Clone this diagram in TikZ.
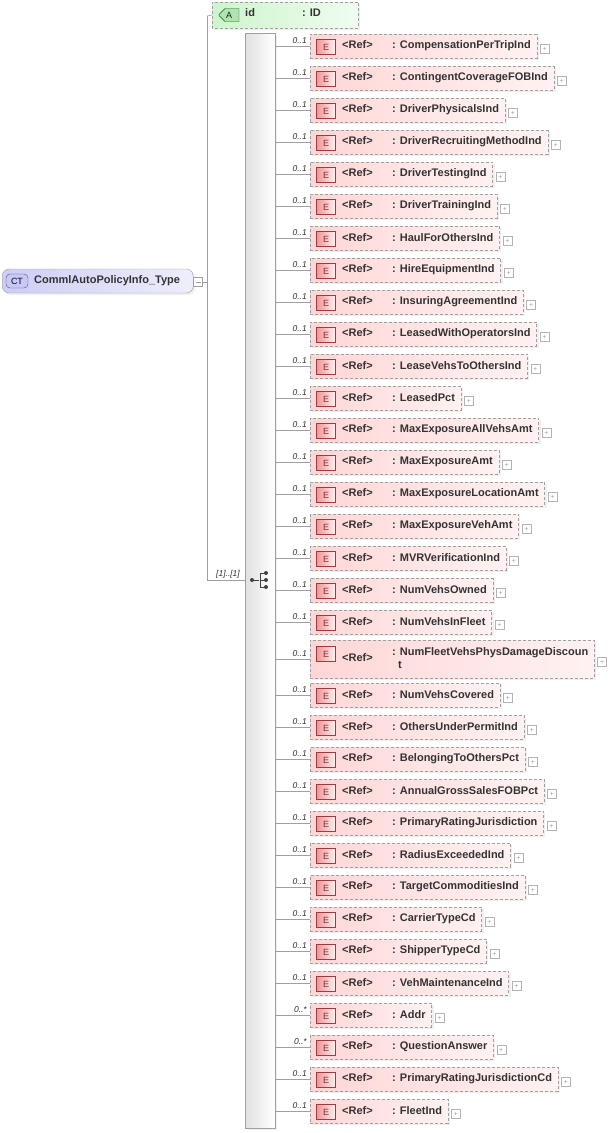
\documentclass[tikz,border=0pt]{standalone}
\usepackage{fontspec}
\setmainfont{Liberation Sans}
\usetikzlibrary{shadows,shapes.misc}
\definecolor{pinkA}{RGB}{255,214,214}
\definecolor{pinkB}{RGB}{255,242,242}
\definecolor{ered}{RGB}{160,60,60}
\definecolor{ebadge}{RGB}{240,150,150}
\definecolor{lineg}{RGB}{160,160,160}
\tikzset{
  shad/.style={drop shadow={shadow xshift=2pt, shadow yshift=-2pt, fill=black!12, draw=none}},
  ebox/.style={draw=lineg, dash pattern=on 3pt off 2pt, left color=pinkA, right color=pinkB, minimum height=24pt, inner xsep=0pt, inner ysep=0pt, anchor=west, align=left, font=\fontsize{11}{13}\selectfont\bfseries, text=black!80, shad},
  ebadge/.style={draw=ered, left color=ebadge, right color=pinkB, minimum width=19pt, minimum height=15pt, inner sep=0pt, font=\fontsize{9}{9}\selectfont, text=ered!80!black},
  plusbox/.style={draw=lineg!80, fill=white, minimum size=9pt, inner sep=0pt, font=\fontsize{7}{7}\selectfont, text=lineg},
  card/.style={font=\fontsize{8.5}{9}\selectfont\itshape, text=black!80, anchor=south east, inner sep=1pt},
  conn/.style={draw=lineg, line width=0.6pt},
}
\begin{document}
\begin{tikzpicture}[x=1pt,y=-1pt]
\fill[white] (0,0) rectangle (610,1133);
\useasboundingbox (0,0) rectangle (610,1133);
% CT node
\node[draw=lineg, rounded corners=7pt, left color={rgb,255:red,205;green,205;blue,245}, right color={rgb,255:red,238;green,238;blue,252}, minimum width=191pt, minimum height=24pt, anchor=west, inner sep=0pt, shad] (ct) at (2,281) {};
\node[draw=blue!40!gray, fill={rgb,255:red,200;green,200;blue,240}, rounded corners=4pt, minimum width=22pt, minimum height=14pt, inner sep=0pt, font=\fontsize{9}{9}\selectfont, text=blue!30!black] (ctb) at (17,281) {CT};
\node[anchor=west, font=\fontsize{11}{13}\selectfont\bfseries, text=black!80, inner sep=0pt] at (34,281) {CommlAutoPolicyInfo\_Type};
\node[draw=lineg, fill=white, minimum size=9pt, inner sep=0pt] (ctc) at (198,282) {};
\draw[lineg] (195.5,282) -- (200.5,282);
\coordinate (j) at (207,282);
\draw[conn] (ctc.east) -- (j);
\draw[conn] (207,16) -- (207,580);
% attribute id
\node[draw=lineg, dash pattern=on 3pt off 2pt, chamfered rectangle, chamfered rectangle corners={north west,south west}, chamfered rectangle xsep=6pt, left color={rgb,255:red,205;green,245;blue,205}, right color={rgb,255:red,240;green,252;blue,240}, minimum width=146pt, minimum height=26pt, inner sep=0pt, anchor=west, shad] (id) at (212,15) {};
\node[draw=green!40!black, fill={rgb,255:red,180;green,225;blue,180}, chamfered rectangle, chamfered rectangle corners={north west,south west}, chamfered rectangle xsep=3pt, minimum width=20pt, minimum height=13pt, inner sep=0pt, font=\fontsize{9}{9}\selectfont, text=green!20!black] (ida) at (229,15) {A};
\node[anchor=west, font=\fontsize{11}{13}\selectfont\bfseries, text=black!80, inner sep=0pt] at (245,13) {id};
\node[anchor=west, font=\fontsize{11}{13}\selectfont\bfseries, text=black!80, inner sep=0pt] at (302,13) {: ID};
\draw[conn] (207,16) -- (id.west);
% sequence bar
\node[draw=lineg, left color=black!12, right color=white, minimum width=30pt, minimum height=1095pt, inner sep=0pt, anchor=north west, shad] (seq) at (245,33) {};
\draw[conn] (207,580) -- (245,580);
\node[card, anchor=south] at (228,579) {[1]..[1]};
% sequence icon
\begin{scope}[line width=0.9pt, black!75]
\draw (252,580) -- (259,580);
\draw (260,573) -- (260,587);
\draw (260,573) -- (266,573) (260,580) -- (266,580) (260,587) -- (266,587);
\fill (252,580) circle (2);
\fill (266,573) circle (2) (266,580) circle (2) (266,587) circle (2);
\end{scope}
% elements
\foreach \i/\nm/\cd in {
0/CompensationPerTripInd/0..1, 1/ContingentCoverageFOBInd/0..1, 2/DriverPhysicalsInd/0..1, 3/DriverRecruitingMethodInd/0..1,
4/DriverTestingInd/0..1, 5/DriverTrainingInd/0..1, 6/HaulForOthersInd/0..1, 7/HireEquipmentInd/0..1,
8/InsuringAgreementInd/0..1, 9/LeasedWithOperatorsInd/0..1, 10/LeaseVehsToOthersInd/0..1, 11/LeasedPct/0..1,
12/MaxExposureAllVehsAmt/0..1, 13/MaxExposureAmt/0..1, 14/MaxExposureLocationAmt/0..1, 15/MaxExposureVehAmt/0..1,
16/MVRVerificationInd/0..1, 17/NumVehsOwned/0..1, 18/NumVehsInFleet/0..1,
19/X/0..1,
20/NumVehsCovered/0..1, 21/OthersUnderPermitInd/0..1, 22/BelongingToOthersPct/0..1, 23/AnnualGrossSalesFOBPct/0..1,
24/PrimaryRatingJurisdiction/0..1, 25/RadiusExceededInd/0..1, 26/TargetCommoditiesInd/0..1, 27/CarrierTypeCd/0..1,
28/ShipperTypeCd/0..1, 29/VehMaintenanceInd/0..1, 30/Addr/0..*, 31/QuestionAnswer/0..*,
32/PrimaryRatingJurisdictionCd/0..1, 33/FleetInd/0..1}{
  \pgfmathsetmacro{\yy}{46+32*\i+(\i>19?9:0)+(\i==19?5:0)}
  \ifnum\i=19
    \node[ebox, minimum height=38pt] (e\i) at (310,\yy) {\hspace{32pt}\makebox[50pt][l]{<Ref>}\begin{tabular}{@{}l@{}}: NumFleetVehsPhysDamageDiscoun\\\hspace{6pt}t\end{tabular}\hspace{6pt}};
    \node[ebadge] (b\i) at ([xshift=16pt]e\i.west |- 0,{\yy-5}) {E};
  \else
    \node[ebox] (e\i) at (310,\yy) {\hspace{32pt}\makebox[50pt][l]{<Ref>}: \nm\hspace{6pt}};
    \node[ebadge] (b\i) at ([xshift=16pt,yshift=-1pt]e\i.west) {E};
  \fi
  \node[plusbox, anchor=west] (p\i) at ([xshift=3pt,yshift=-3pt]e\i.east) {+};
  \draw[conn] (seq.east |- e\i.west) -- (e\i.west);
  \node[card] at ([xshift=-2pt,yshift=1pt]e\i.west) {\cd};
}
\end{tikzpicture}
\end{document}
